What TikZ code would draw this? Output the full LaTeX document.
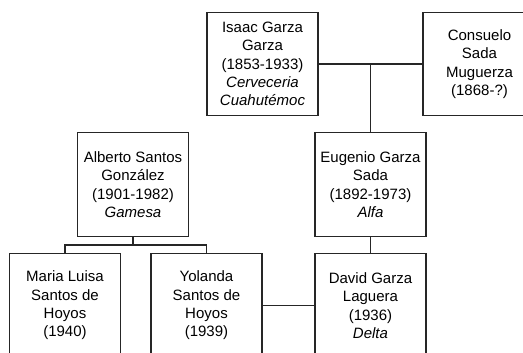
\documentclass[tikz,border=0pt]{standalone}
\usepackage{fontspec}
\setmainfont{Liberation Sans}
\begin{document}
\begin{tikzpicture}[x=1pt,y=-1pt,
  person/.style={draw=black!85, line width=1.2pt, minimum width=111pt, minimum height=103.5pt,
    inner sep=0pt, align=center, font=\fontsize{15pt}{18.4pt}\selectfont},
  link/.style={draw=black!85, line width=1.2pt}]
\useasboundingbox (0,0) rectangle (523,353);
\clip (0,0) rectangle (523,353);
\node[person] (isaac) at (262.5,64) {Isaac Garza\\Garza\\(1853-1933)\\\textit{Cerveceria}\\\textit{Cuahutémoc}};
\node[person, minimum width=113pt] (consuelo) at (479.5,64) {Consuelo\\Sada\\Muguerza\\(1868-?)};
\node[person] (eugenio) at (370.5,184.5) {Eugenio Garza\\Sada\\(1892-1973)\\\textit{Alfa}};
\node[person] (alberto) at (133,184.5) {Alberto Santos\\González\\(1901-1982)\\\textit{Gamesa}};
\node[person] (maria) at (65,305.5) {Maria Luisa\\Santos de\\Hoyos\\(1940)};
\node[person] (yolanda) at (206.5,305.5) {Yolanda\\Santos de\\Hoyos\\(1939)};
\node[person] (david) at (370.5,305.5) {David Garza\\Laguera\\(1936)\\\textit{Delta}};
\coordinate (marriage) at (370.5,64);
\coordinate (fork) at (133,245);
\draw[link] (isaac.east) -- (consuelo.west);
\draw[link] (marriage) -- (eugenio.north);
\draw[link] (eugenio.south) -- (david.north);
\draw[link] (alberto.south) -- (fork);
\draw[link] (maria.north) |- (fork) -| (yolanda.north);
\draw[link] (yolanda.east) -- (david.west);
\end{tikzpicture}
\end{document}
